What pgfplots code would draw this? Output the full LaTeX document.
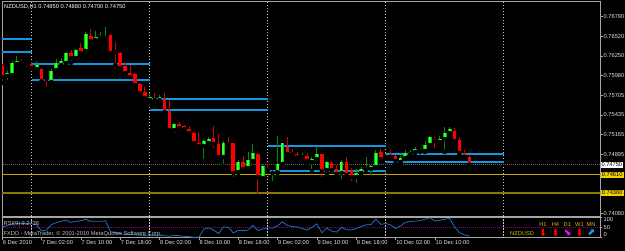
\documentclass[border=0pt]{standalone}
\usepackage{pgfplots}
\pgfplotsset{compat=1.18}
\usepackage{pgfplotstable}
\usepackage{fontspec}
\setmainfont{Liberation Sans}
\newfontfamily\symfont{DejaVu Sans}
\definecolor{axgray}{RGB}{165,165,165}
\definecolor{lbl}{RGB}{225,225,225}
\definecolor{sepc}{RGB}{200,200,200}
\definecolor{lvlblue}{RGB}{20,150,220}
\definecolor{pricec}{RGB}{95,95,95}
\definecolor{yelA}{RGB}{190,165,0}
\definecolor{yelB}{RGB}{140,120,0}
\definecolor{yelbox}{RGB}{240,210,0}
\definecolor{rsic}{RGB}{30,110,190}
\definecolor{purp}{RGB}{128,0,128}
\definecolor{gbody}{RGB}{0,200,0}
\definecolor{gin}{RGB}{60,255,60}
\definecolor{gwick}{RGB}{0,140,0}
\definecolor{rbody}{RGB}{255,0,0}
\definecolor{rwick}{RGB}{210,0,0}
\definecolor{nzc}{RGB}{205,190,0}
\definecolor{hc}{RGB}{232,180,0}
\definecolor{magc}{RGB}{255,0,255}
\definecolor{mnc}{RGB}{20,160,240}
\newcommand\tf{\fontsize{5.7}{6.5}\selectfont}

\pgfplotstableread{
i o h l c
-5 0.75973 0.76042 0.75890 0.76014
-4 0.75986 0.76179 0.75973 0.76152
-3 0.76138 0.76248 0.76111 0.76179
-1 0.76138 0.76166 0.76069 0.76152
1 0.76069 0.76179 0.76014 0.76124
4 0.75890 0.76069 0.75862 0.76042
5 0.76055 0.76207 0.76014 0.76152
6 0.76124 0.76221 0.76083 0.76179
7 0.76152 0.76303 0.76138 0.76290
9 0.76221 0.76345 0.76207 0.76331
11 0.76317 0.76579 0.76303 0.76552
13 0.76469 0.76593 0.76455 0.76510
14 0.76496 0.76579 0.76469 0.76510
15 0.76496 0.76648 0.76496 0.76524
24 0.75642 0.75738 0.75600 0.75683
26 0.75642 0.75711 0.75614 0.75683
29 0.75228 0.75325 0.75159 0.75311
35 0.75008 0.75090 0.74801 0.75077
36 0.75049 0.75132 0.75021 0.75104
39 0.74856 0.75077 0.74732 0.75049
42 0.74649 0.74815 0.74594 0.74787
44 0.74704 0.74925 0.74691 0.74815
45 0.74801 0.75035 0.74787 0.74911
47 0.74566 0.74746 0.74553 0.74732
49 0.74635 0.74677 0.74498 0.74663
50 0.74649 0.75145 0.74635 0.74760
51 0.74760 0.75049 0.74746 0.75049
55 0.74856 0.74911 0.74815 0.74870
57 0.74787 0.74856 0.74663 0.74828
58 0.74828 0.75008 0.74787 0.74897
60 0.74677 0.74801 0.74608 0.74787
63 0.74635 0.74815 0.74525 0.74787
66 0.74580 0.74691 0.74470 0.74635
67 0.74635 0.74718 0.74622 0.74691
68 0.74691 0.74856 0.74677 0.74718
69 0.74691 0.74746 0.74580 0.74732
70 0.74718 0.74953 0.74704 0.74911
72 0.74856 0.74911 0.74842 0.74884
75 0.74787 0.74870 0.74746 0.74842
76 0.74842 0.74953 0.74828 0.74911
77 0.74897 0.74953 0.74884 0.74925
78 0.74925 0.74994 0.74911 0.74966
79 0.74939 0.74980 0.74925 0.74966
80 0.74939 0.75077 0.74925 0.75021
81 0.75021 0.75145 0.75008 0.75132
83 0.75063 0.75145 0.75021 0.75104
84 0.75104 0.75270 0.74925 0.75187
85 0.75187 0.75270 0.75145 0.75242
}\bull

\pgfplotstableread{
i o h l c
-6 0.76111 0.76138 0.75876 0.75959
-2 0.76166 0.76207 0.76124 0.76152
0 0.76138 0.76166 0.76069 0.76083
2 0.76069 0.76083 0.75890 0.75904
3 0.75945 0.75959 0.75794 0.75931
8 0.76290 0.76331 0.76152 0.76221
10 0.76359 0.76427 0.76234 0.76290
12 0.76524 0.76621 0.76441 0.76455
16 0.76538 0.76552 0.76276 0.76290
17 0.76317 0.76441 0.76124 0.76303
18 0.76290 0.76303 0.76069 0.76083
19 0.76111 0.76166 0.75973 0.76014
20 0.76014 0.76124 0.75959 0.75959
21 0.76000 0.76014 0.75835 0.75849
22 0.75862 0.75876 0.75711 0.75738
23 0.75752 0.75821 0.75642 0.75669
25 0.75669 0.75738 0.75614 0.75642
27 0.75656 0.75738 0.75435 0.75476
28 0.75490 0.75642 0.75201 0.75228
30 0.75311 0.75339 0.75187 0.75256
31 0.75283 0.75297 0.75214 0.75242
32 0.75242 0.75283 0.75145 0.75187
33 0.75187 0.75201 0.75021 0.75049
34 0.75049 0.75201 0.74994 0.75008
37 0.75118 0.75283 0.74953 0.75035
38 0.75035 0.75173 0.74787 0.74856
40 0.75049 0.75132 0.74953 0.75021
41 0.75049 0.75049 0.74553 0.74635
43 0.74787 0.74870 0.74677 0.74691
46 0.74897 0.74911 0.74318 0.74580
48 0.74704 0.74760 0.74649 0.74677
52 0.74994 0.75132 0.74884 0.74897
53 0.74925 0.74966 0.74856 0.74897
54 0.74897 0.74925 0.74842 0.74856
56 0.74870 0.74911 0.74773 0.74801
59 0.74897 0.74897 0.74553 0.74663
61 0.74773 0.74801 0.74663 0.74677
62 0.74691 0.74746 0.74566 0.74622
64 0.74787 0.74856 0.74580 0.74608
65 0.74677 0.74704 0.74498 0.74580
71 0.74925 0.74966 0.74815 0.74828
73 0.74897 0.74953 0.74856 0.74856
74 0.74870 0.74884 0.74760 0.74801
82 0.75104 0.75132 0.74953 0.75077
86 0.75214 0.75256 0.75063 0.75077
87 0.75090 0.75132 0.74884 0.74911
88 0.74911 0.74953 0.74842 0.74856
89 0.74850 0.74880 0.74700 0.74750
}\bear

\pgfplotstableread{
i r
-6 52
-5 58
-4 66
-3 69
-2 68
-1 69
0 68
1 62
2 32
3 37
4 63
5 73
6 79
7 85
8 74
9 79
10 82
11 89
12 79
13 79
14 79
15 82
16 30
17 25
18 20
19 17
20 15
21 14
22 12
23 11
24 12
25 10.5
26 12
27 9.5
28 7
29 12
30 9.5
31 7
32 4.5
33 2
34 2
35 42
36 47
37 37
38 20
39 52
40 50
41 23.5
42 35
43 34
44 37
45 60
46 35
47 42
48 47
49 47
50 57
51 77
52 59
53 54
54 52
55 44.5
56 37
57 50
58 67
59 23.5
60 47
61 32
62 27
63 50
64 39.5
65 37
66 44.5
67 54.5
68 62
69 63.5
70 89.5
71 64.5
72 68.5
73 62
74 44.5
75 57
76 74.5
77 78
78 80.5
79 82
80 89.5
81 96
82 80.5
83 84.5
84 89.5
85 93.5
86 52
87 24.5
88 13.5
89 9.2736
}\rsi

\begin{document}
\begin{tikzpicture}[x=1pt,y=1pt]
\useasboundingbox (0,0) rectangle (625,251);
\fill[black] (0,0) rectangle (625,251);

% ---------------- main price panel ----------------
\begin{axis}[name=main, at={(2pt,35pt)}, anchor=south west, scale only axis,
  width=598pt, height=214.5pt,
  xmin=-6.04, xmax=115.58, ymin=0.74043, ymax=0.76999,
  axis line style={draw=axgray, line width=0.8pt},
  clip mode=individual,
  xtick=\empty,
  ytick={0.7408,0.74895,0.75165,0.75435,0.75705,0.7598,0.7625,0.7652,0.7679},
  ytick pos=right, yticklabel pos=right, tick align=outside,
  major tick length=3pt,
  tick style={draw=axgray, line width=0.6pt},
  yticklabel style={font=\tf, text=lbl, anchor=west, inner sep=0.5pt,
    /pgf/number format/.cd, fixed, fixed zerofill, precision=5, assume math mode=true},
  scaled y ticks=false,
]
\foreach \d in {0,24,48,72,96}{
  \edef\tmp{\noexpand\addplot[sepc, line width=0.7pt, dash pattern=on 1.5pt off 1.5pt] coordinates {(\d,0.7400) (\d,0.7702)};}
  \tmp
}
\addplot[pricec, line width=0.8pt, dash pattern=on 1pt off 1pt] coordinates {(-10,0.7475) (120,0.7475)};
\addplot[yelA, line width=0.9pt] coordinates {(-10,0.7461) (120,0.7461)};
\addplot[yelB, line width=1.6pt] coordinates {(-10,0.7436) (120,0.7436)};
\addplot[lvlblue, line width=2pt] coordinates {(-6.1,0.76487) (0,0.76487)};
\addplot[lvlblue, line width=2pt] coordinates {(-6.1,0.76308) (0,0.76308)};
\addplot[lvlblue, line width=2pt] coordinates {(0,0.76134) (24,0.76134)};
\addplot[lvlblue, line width=2pt] coordinates {(0,0.75913) (24,0.75913)};
\addplot[lvlblue, line width=2pt] coordinates {(24,0.75656) (48,0.75656)};
\addplot[lvlblue, line width=2pt] coordinates {(24,0.75508) (48,0.75508)};
\addplot[lvlblue, line width=2pt] coordinates {(48,0.75012) (72,0.75012)};
\addplot[lvlblue, line width=2pt] coordinates {(48,0.74663) (72,0.74663)};
\addplot[lvlblue, line width=2pt] coordinates {(72,0.74898) (96,0.74898)};
\addplot[lvlblue, line width=2pt] coordinates {(72,0.74791) (96,0.74791)};
\addplot[only marks, mark=none, error bars/.cd, y dir=plus, y explicit, error mark=none,
  error bar style={line width=1pt, draw=gwick}]
  table[x=i, y=l, y error plus expr={\thisrow{h}-\thisrow{l}}] {\bull};
\addplot[only marks, mark=none, error bars/.cd, y dir=plus, y explicit, error mark=none,
  error bar style={line width=1pt, draw=rwick}]
  table[x=i, y=l, y error plus expr={\thisrow{h}-\thisrow{l}}] {\bear};
\addplot[only marks, mark=none, error bars/.cd, y dir=plus, y explicit, error mark=none,
  error bar style={line width=3.8pt, draw=gbody}]
  table[x=i, y=o, y error plus expr={\thisrow{c}-\thisrow{o}}] {\bull};
\addplot[only marks, mark=none, error bars/.cd, y dir=plus, y explicit, error mark=none,
  error bar style={line width=2pt, draw=gin}]
  table[x=i, y=o, y error plus expr={\thisrow{c}-\thisrow{o}}] {\bull};
\addplot[only marks, mark=none, error bars/.cd, y dir=plus, y explicit, error mark=none,
  error bar style={line width=3.6pt, draw=rbody}]
  table[x=i, y=c, y error plus expr={\thisrow{o}-\thisrow{c}}] {\bear};
\node[anchor=west, fill=white, text=black, font=\tf, inner xsep=1pt, inner ysep=1pt, xshift=0.3pt] at (axis cs:115.58,0.7475) {0.74750};
\node[anchor=west, fill=yelbox, text=black, font=\tf, inner xsep=1.4pt, inner ysep=1pt, xshift=0.3pt] at (axis cs:115.58,0.7461) {0.74610};
\node[anchor=west, fill=yelbox, text=black, font=\tf, inner xsep=1.4pt, inner ysep=1pt, xshift=0.3pt] at (axis cs:115.58,0.7436) {0.74360};
\end{axis}

% ---------------- RSI panel ----------------
\begin{axis}[name=rsiax, at={(2pt,13.3pt)}, anchor=south west, scale only axis,
  width=598pt, height=20.7pt,
  xmin=-6.04, xmax=115.58, ymin=0, ymax=100,
  axis line style={draw=axgray, line width=0.8pt},
  clip mode=individual,
  xtick={-6,2,10,18,26,34,42,50,58,66,74,82},
  xticklabels={6 Dec 2010,7 Dec 02:00,7 Dec 10:00,7 Dec 18:00,8 Dec 02:00,8 Dec 10:00,8 Dec 18:00,9 Dec 02:00,9 Dec 10:00,9 Dec 18:00,10 Dec 02:00,10 Dec 10:00},
  xtick pos=bottom, tick align=outside, major tick length=2pt,
  tick style={draw=axgray, line width=0.6pt},
  xticklabel style={font=\tf, text=lbl, anchor=north west, inner sep=0.5pt, yshift=-0.5pt},
  ytick={0,50,100}, yticklabels={}, ytick pos=right,
]
\foreach \d in {0,24,48,72,96}{
  \edef\tmp{\noexpand\addplot[sepc, line width=0.7pt, dash pattern=on 1.5pt off 1.5pt] coordinates {(\d,-5) (\d,105)};}
  \tmp
}
\addplot[purp, line width=0.9pt, dash pattern=on 1pt off 1pt] coordinates {(-10,50) (120,50)};
\addplot[rsic, line width=0.8pt] table[x=i, y=r] {\rsi};
\node[anchor=north west, font=\tf, text=lbl, inner sep=0.5pt, xshift=3pt] at (axis cs:115.58,100) {100};
\node[anchor=west, font=\tf, text=lbl, inner sep=0.5pt, xshift=3pt] at (axis cs:115.58,50) {50};
\node[anchor=south west, font=\tf, text=lbl, inner sep=0.5pt, xshift=3pt] at (axis cs:115.58,0) {0};
\end{axis}

\node[anchor=west, font=\tf, text=white, inner sep=0pt] at (4,244.5) {NZDUSD,H1 0.74850 0.74880 0.74700 0.74750};
\node[anchor=west, font=\tf, text=lbl!85!black, inner sep=0pt] at (3.5,27) {RSI(9) 9.2736};
\node[anchor=west, font=\tf, text=lbl!85!black, inner sep=0pt] at (3.5,16.8) {FXDD - MetaTrader, © 2001-2010 MetaQuotes Software Corp.};
\node[anchor=west, font=\tf, text=nzc, inner sep=0pt] at (510,17.7) {NZDUSD};
\node[font=\tf, text=hc, inner sep=0pt] at (543,26.7) {H1};
\node[font=\tf, text=hc, inner sep=0pt] at (555.5,26.7) {H4};
\node[font=\tf, text=hc, inner sep=0pt] at (567.3,26.7) {D1};
\node[font=\tf, text=hc, inner sep=0pt] at (579.5,26.7) {W1};
\node[font=\tf, text=hc, inner sep=0pt] at (591,26.7) {MN};
\node[font=\symfont\bfseries\fontsize{9.5}{9.5}\selectfont, text=red, inner sep=0pt] at (543,18) {⬇};
\node[font=\symfont\bfseries\fontsize{9.5}{9.5}\selectfont, text=red, inner sep=0pt] at (555.5,18) {⬇};
\node[font=\symfont\bfseries\fontsize{9.5}{9.5}\selectfont, text=magc, inner sep=0pt] at (567.3,18) {⬊};
\node[font=\symfont\bfseries\fontsize{9.5}{9.5}\selectfont, text=red, inner sep=0pt] at (579.5,18) {⬇};
\node[font=\symfont\bfseries\fontsize{9.5}{9.5}\selectfont, text=mnc, inner sep=0pt] at (591,18) {⬈};
\end{tikzpicture}
\end{document}
